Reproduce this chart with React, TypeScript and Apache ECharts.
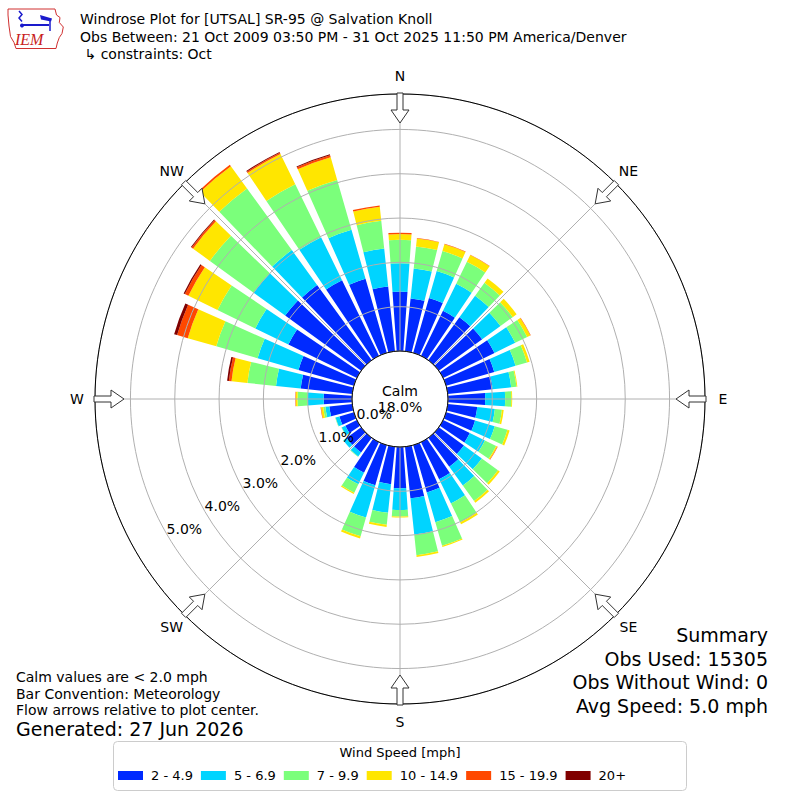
import React, { useEffect, useRef } from "react";
import * as echarts from "echarts";

// ---------------- data ----------------
const directions = [0, 10, 20, 30, 40, 50, 60, 70, 80, 90, 100, 110, 120, 130, 140, 150, 160, 170,
  180, 190, 200, 210, 220, 230, 240, 250, 260, 270, 280, 290, 300, 310, 320, 330, 340, 350];

const speedBins = ["2 - 4.9", "5 - 6.9", "7 - 9.9", "10 - 14.9", "15 - 19.9", "20+"];
const binColors = ["#002aff", "#00d4ff", "#7bff7b", "#ffe600", "#ff4800", "#800000"];

// percent of observations, per direction (0..350 by 10), per speed bin
const speed2to5 = [1.34, 1.20, 1.29, 1.13, 1.20, 1.21, 1.29, 1.13, 1.02, 0.84, 0.67, 0.68, 0.67, 0.70, 0.81, 0.93, 1.11, 1.17,
  0.93, 0.85, 0.94, 0.77, 0.41, 0.41, 0.29, 0.34, 0.52, 0.64, 1.17, 1.30, 1.72, 2.12, 2.10, 1.90, 1.74, 1.47];
const speed5to7 = [0.64, 0.68, 0.63, 0.68, 0.60, 0.51, 0.52, 0.50, 0.42, 0.45, 0.40, 0.46, 0.38, 0.50, 0.52, 0.61, 0.70, 0.82,
  0.49, 0.65, 0.76, 0.29, 0.11, 0.09, 0.09, 0.09, 0.09, 0.36, 0.56, 0.96, 0.83, 0.88, 0.97, 1.08, 1.15, 0.86];
const speed7to10 = [0.53, 0.50, 0.47, 0.55, 0.36, 0.34, 0.30, 0.27, 0.12, 0.14, 0.16, 0.30, 0.28, 0.45, 0.43, 0.47, 0.55, 0.47,
  0.15, 0.27, 0.44, 0.21, 0.01, 0.00, 0.01, 0.01, 0.05, 0.23, 0.65, 0.97, 0.95, 1.22, 1.72, 1.33, 1.17, 0.63];
const speed10to15 = [0.13, 0.18, 0.16, 0.17, 0.12, 0.11, 0.08, 0.06, 0.02, 0.02, 0.04, 0.05, 0.03, 0.05, 0.05, 0.05, 0.03, 0.04,
  0.02, 0.05, 0.05, 0.03, 0.00, 0.00, 0.00, 0.00, 0.05, 0.04, 0.36, 0.67, 0.73, 0.47, 0.62, 0.76, 0.53, 0.32];
const speed15to20 = [0.03, 0.01, 0.01, 0.01, 0.00, 0.00, 0.01, 0.00, 0.00, 0.00, 0.00, 0.00, 0.01, 0.00, 0.00, 0.00, 0.00, 0.00,
  0.00, 0.00, 0.00, 0.00, 0.00, 0.00, 0.00, 0.00, 0.01, 0.01, 0.06, 0.25, 0.09, 0.04, 0.04, 0.03, 0.05, 0.03];
const speed20plus = [0, 0, 0, 0, 0, 0, 0, 0, 0, 0, 0, 0, 0, 0, 0, 0, 0, 0,
  0, 0, 0, 0, 0, 0, 0, 0, 0, 0, 0.04, 0.07, 0.03, 0.02, 0.00, 0.02, 0.02, 0];

const binSeries = [speed2to5, speed5to7, speed7to10, speed10to15, speed15to20, speed20plus];

const compassLabels = ["N", "NE", "E", "SE", "S", "SW", "W", "NW"];
const radiusMax = 5.8;
const calmText = ["Calm", "18.0%"];

const titleLines = [
  "Windrose Plot for [UTSAL] SR-95 @ Salvation Knoll",
  "Obs Between: 21 Oct 2009 03:50 PM - 31 Oct 2025 11:50 PM America/Denver",
  " \u21b3 constraints: Oct",
];
const noteLines = [
  "Calm values are < 2.0 mph",
  "Bar Convention: Meteorology",
  "Flow arrows relative to plot center.",
];
const generatedText = "Generated: 27 Jun 2026";
const summaryLines = ["Summary", "Obs Used: 15305", "Obs Without Wind: 0", "Avg Speed: 5.0 mph"];
const legendTitle = "Wind Speed [mph]";

// ---------------- layout ----------------
const FONT = "DejaVu Sans";
const CX = 400;
const CY = 399;
const R0 = 48;
const R1 = 305;
const LABEL_R = 323;

function txt(x: number, y: number, text: string, size: number, align = "left", extra: any = {}) {
  return {
    type: "text",
    x,
    y,
    z: 50,
    silent: true,
    style: {
      text,
      fill: "#000",
      fontSize: size,
      fontFamily: FONT,
      align,
      textAlign: align,
      verticalAlign: "middle",
      textVerticalAlign: "middle",
      ...extra,
    },
  };
}

function arrowPoints(deg: number) {
  const t = (deg * Math.PI) / 180;
  const u = [Math.sin(t), -Math.cos(t)];
  const v = [Math.cos(t), Math.sin(t)];
  const pts = [
    [306, -3], [306, 3], [289, 3], [289, 9], [276, 0], [289, -9], [289, -3],
  ];
  return pts.map(([r, w]) => [CX + r * u[0] + w * v[0], CY + r * u[1] + w * v[1]]);
}

function buildOption() {
  const graphics: any[] = [];

  // logo (Iowa outline + icon + IEM)
  graphics.push({
    type: "polygon",
    z: 50,
    silent: true,
    shape: {
      points: [
        [8, 9], [55, 9], [56.5, 15], [60, 17.5], [59.3, 22.5], [63.3, 27], [62, 33.5],
        [59.3, 37.5], [57.3, 43], [56, 48.5], [16, 48.5], [14, 42.5], [10.5, 36.5], [9, 26], [8, 15],
      ],
    },
    style: { fill: "none", stroke: "#d03030", lineWidth: 1 },
  });
  graphics.push({
    type: "line", z: 50, silent: true,
    shape: { x1: 22, y1: 25, x2: 49, y2: 25 },
    style: { stroke: "#1a1acc", lineWidth: 2 },
  });
  graphics.push({
    type: "polygon", z: 50, silent: true,
    shape: { points: [[40, 15], [52, 18.5], [51, 21.5], [41, 19.5]] },
    style: { fill: "#1a1acc" },
  });
  graphics.push({
    type: "polyline", z: 50, silent: true,
    shape: { points: [[19, 11], [22, 14.5], [19, 18], [22, 21.5]] },
    style: { stroke: "#1a1acc", lineWidth: 1.5, fill: "none" },
  });
  graphics.push({
    type: "circle", z: 50, silent: true,
    shape: { cx: 22, cy: 25.5, r: 2 },
    style: { fill: "#1a1acc" },
  });
  graphics.push({
    type: "line", z: 50, silent: true,
    shape: { x1: 50, y1: 21, x2: 50, y2: 31 },
    style: { stroke: "#1a1acc", lineWidth: 1.5 },
  });
  graphics.push(
    txt(15, 39, "IEM", 16, "left", {
      fill: "#c82020",
      fontFamily: "Liberation Serif",
      fontStyle: "italic",
    })
  );

  // titles
  titleLines.forEach((t, i) => graphics.push(txt(80, 19 + i * 17.5, t, 14)));

  // notes bottom-left
  noteLines.forEach((t, i) => graphics.push(txt(16, 677 + i * 16.5, t, 14)));
  graphics.push(txt(16, 729, generatedText, 19));

  // summary bottom-right
  summaryLines.forEach((t, i) => graphics.push(txt(768, 635 + i * 23.5, t, 19, "right")));

  // calm text
  graphics.push(txt(CX, CY - 8, calmText[0], 14, "center"));
  graphics.push(txt(CX, CY + 8, calmText[1], 14, "center"));

  // compass labels and flow arrows
  compassLabels.forEach((lab, i) => {
    const t = (i * 45 * Math.PI) / 180;
    graphics.push(txt(CX + LABEL_R * Math.sin(t), CY - LABEL_R * Math.cos(t), lab, 14, "center"));
    graphics.push({
      type: "polygon",
      z: 60,
      silent: true,
      shape: { points: arrowPoints(i * 45) },
      style: { fill: "#fff", stroke: "#333", lineWidth: 1 },
    });
  });

  // legend frame
  graphics.push({
    type: "rect",
    z: 0,
    silent: true,
    shape: { x: 113.5, y: 741.5, width: 573, height: 49, r: 4 },
    style: { fill: "#fff", stroke: "#cccccc", lineWidth: 1 },
  });
  graphics.push(txt(400, 752, legendTitle, 13, "center"));

  return {
    animation: false,
    backgroundColor: "#ffffff",
    textStyle: { fontFamily: FONT },
    polar: [
      { center: [CX, CY], radius: [R0, R1] },
      { center: [CX, CY], radius: [R0, R1] },
      { center: [CX, CY], radius: [R0 - 18, R1 - 18] },
    ],
    angleAxis: [
      {
        polarIndex: 0,
        type: "category",
        data: directions.map(String),
        startAngle: 95,
        clockwise: true,
        boundaryGap: true,
        axisLine: { show: true, lineStyle: { color: "#000", width: 1 } },
        axisTick: { show: false },
        axisLabel: { show: false },
        splitLine: { show: false },
        z: 4,
      },
      {
        polarIndex: 1,
        type: "value",
        min: 0,
        max: 360,
        interval: 45,
        startAngle: 90,
        clockwise: true,
        axisLine: { show: false },
        axisTick: { show: false },
        axisLabel: { show: false },
        splitLine: { show: true, lineStyle: { color: "#b0b0b0", width: 1 } },
        z: 3,
      },
      {
        polarIndex: 2,
        type: "value",
        min: 0,
        max: 360,
        startAngle: 211,
        show: false,
      },
    ],
    radiusAxis: [
      { polarIndex: 0, type: "value", min: 0, max: radiusMax, show: false },
      {
        polarIndex: 1,
        type: "value",
        min: 0,
        max: radiusMax,
        interval: 1,
        axisLine: { show: false },
        axisTick: { show: false },
        axisLabel: { show: false },
        splitLine: { show: true, lineStyle: { color: "#b0b0b0", width: 1 } },
        z: 3,
      },
      {
        polarIndex: 2,
        type: "value",
        min: 0,
        max: radiusMax,
        interval: 1,
        axisLine: { show: false },
        axisTick: { show: false },
        splitLine: { show: false },
        axisLabel: {
          show: true,
          margin: 0,
          align: "center",
          verticalAlign: "middle",
          fontSize: 14,
          fontFamily: FONT,
          color: "#000",
          showMaxLabel: false,
          formatter: (v: number) => (Math.abs(v - Math.round(v)) < 1e-6 ? v.toFixed(1) + "%" : ""),
        },
        z: 5,
      },
    ],
    legend: {
      data: speedBins,
      left: 118,
      top: 769,
      padding: 0,
      itemWidth: 25,
      itemHeight: 9,
      itemGap: 8,
      icon: "rect",
      selectedMode: false,
      textStyle: { fontSize: 13, fontFamily: FONT, color: "#000", padding: [0, 0, 0, 3] },
      z: 10,
    },
    series: speedBins.map((name, i) => ({
      type: "bar",
      name,
      coordinateSystem: "polar",
      polarIndex: 0,
      stack: "wind",
      data: binSeries[i],
      barCategoryGap: "20%",
      itemStyle: { color: binColors[i] },
      silent: true,
      z: 2,
    })),
    graphic: { elements: graphics },
  };
}

export default function App() {
  const ref = useRef<HTMLDivElement>(null);
  useEffect(() => {
    if (!ref.current) return;
    const chart = echarts.init(ref.current, undefined, { renderer: "svg" });
    chart.setOption(buildOption() as any);
    return () => {
      chart.dispose();
    };
  }, []);
  return (
    <div
      ref={ref}
      style={{ position: "fixed", left: 0, top: 0, width: 800, height: 800, background: "#fff" }}
    />
  );
}
